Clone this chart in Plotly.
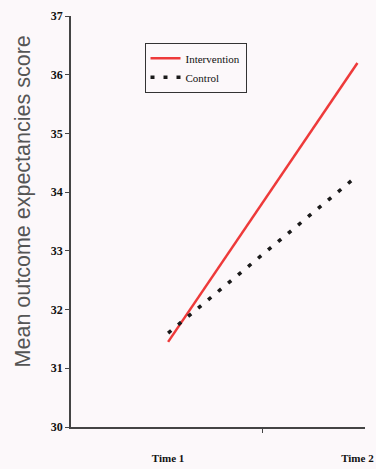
import plotly.graph_objects as go

# Time points and group means
time_labels = ["Time 1", "Time 2"]
time_pos = [1, 2]
intervention = [31.45, 36.2]
control = [31.6, 34.28]

fig = go.Figure()
fig.add_trace(go.Scatter(
    x=time_pos, y=intervention, mode="lines", name="Intervention",
    line=dict(color="#ee3a3a", width=2.5),
))
fig.add_trace(go.Scatter(
    x=time_pos, y=control, mode="lines", name="Control",
    line=dict(color="#1a1a1a", width=3.5, dash="4px,9px"),
))

serif = "Liberation Serif, Times New Roman, serif"
sans = "Liberation Sans, Arial, sans-serif"
bg = "#fcf8fa"

fig.update_layout(
    width=376, height=469,
    margin=dict(l=71, r=11, t=16, b=42),
    paper_bgcolor=bg, plot_bgcolor=bg,
    font=dict(family=serif, color="#111111"),
    showlegend=True,
    legend=dict(
        x=0.25, y=0.935, xanchor="left", yanchor="top",
        bgcolor="rgba(0,0,0,0)", bordercolor="#333333", borderwidth=1,
        font=dict(family=serif, size=11, color="#111111"),
        itemwidth=30, tracegroupgap=0,
    ),
    xaxis=dict(
        range=[0.487, 2.04], showgrid=False, zeroline=False, automargin=False,
        showline=True, linecolor="#444444", linewidth=1.5,
        tickmode="array", tickvals=time_pos, ticktext=time_labels,
        ticks="", tickfont=dict(family=serif, size=11, color="#111111",
                                weight="bold"),
        ticklabelstandoff=20,
        minor=dict(tickmode="array", tickvals=[1.5], ticks="outside",
                   ticklen=4, tickcolor="#444444", tickwidth=1),
    ),
    yaxis=dict(
        range=[30, 37], dtick=1, showgrid=False, zeroline=False, automargin=False,
        showline=True, linecolor="#444444", linewidth=1.5,
        ticks="outside", ticklen=4, tickcolor="#444444",
        tickfont=dict(family=serif, size=12, color="#111111", weight="bold"),
    ),
    annotations=[dict(
        text="Mean outcome expectancies score", textangle=-90,
        xref="paper", yref="paper", x=-0.165, y=0.55,
        xanchor="center", yanchor="middle", showarrow=False,
        font=dict(family=sans, size=21.5, color="#555555"),
    )],
)

fig.write_html("out.html")
